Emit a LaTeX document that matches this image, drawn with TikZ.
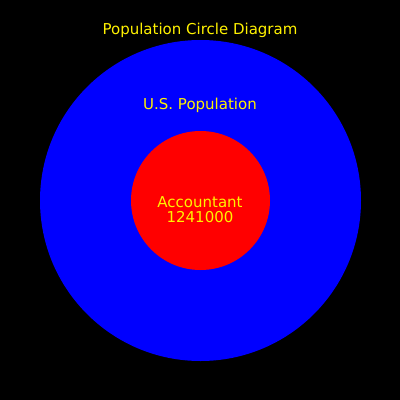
\documentclass[tikz,border=0pt]{standalone}
\usepackage{fontspec}
\setmainfont{DejaVu Sans}
\begin{document}
\begin{tikzpicture}[x=1pt,y=-1pt,
  lbl/.style={text=yellow,font=\fontsize{15}{15}\selectfont,inner sep=0pt,align=center}]
\fill[black] (0,0) rectangle (400,400);
\useasboundingbox (0,0) rectangle (400,400);
\node[circle,fill=blue,minimum size=321pt,inner sep=0pt] (pop) at (200.5,200.5) {};
\node[circle,fill=red,minimum size=139pt,inner sep=0pt] (acc) at (200.5,200.5) {};
\node[lbl] (title) at (200,30) {Population Circle Diagram};
\node[lbl] (usp) at (200,105) {U.S. Population};
\node[lbl] (acct) at (200,210) {Accountant\\1241000};
\end{tikzpicture}
\end{document}
